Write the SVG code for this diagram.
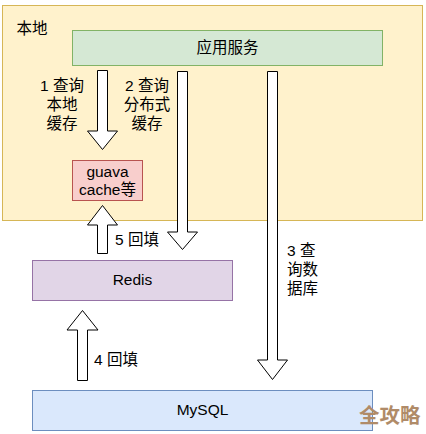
<svg xmlns="http://www.w3.org/2000/svg" width="426" height="434" viewBox="0 0 426 434">
<style>
text{font-family:"Liberation Sans","Noto Sans CJK SC",sans-serif;font-size:15.5px;fill:#000}
.c{text-anchor:middle}
.arr{fill:#fff;stroke:#000;stroke-width:1}
</style>
<rect x="0" y="0" width="426" height="434" fill="#fff"/>
<g id="local">
<rect x="2.5" y="5.5" width="420" height="215" fill="#fff2cc" stroke="#d6b656"/>
<text x="16.5" y="33.5">本地</text>
</g>
<g id="app">
<rect x="72.5" y="30.5" width="310" height="35" fill="#d5e8d4" stroke="#82b366"/>
<text class="c" x="227.5" y="52.5">应用服务</text>
</g>
<g id="guava">
<rect x="72.5" y="160.5" width="70" height="40" fill="#f8cecc" stroke="#b85450"/>
<text class="c" x="107.5" y="176.5">guava</text>
<text class="c" x="107.5" y="194.5">cache等</text>
</g>
<g id="redis">
<rect x="32.5" y="260.5" width="200" height="40" fill="#e1d5e7" stroke="#9673a6"/>
<text class="c" x="132.5" y="284.5">Redis</text>
</g>
<g id="mysql">
<rect x="32.5" y="390.5" width="340" height="40" fill="#dae8fc" stroke="#6c8ebf"/>
<text class="c" x="202.5" y="414.5">MySQL</text>
</g>
<g id="connectors">
<path class="arr" d="M97.5 70.5 H107.5 V131 H117.5 L102.5 149.5 L87.5 131 H97.5 Z"/>
<path class="arr" d="M177.5 71.5 H187.5 V232 H197.5 L182.5 249.5 L167.5 232 H177.5 Z"/>
<path class="arr" d="M267.5 71.5 H277.5 V360 H287.5 L272.5 379.5 L257.5 360 H267.5 Z"/>
<path class="arr" d="M97.5 253.5 H107.5 V225 H117.5 L102.5 205.5 L87.5 225 H97.5 Z"/>
<path class="arr" d="M77.5 380.5 H87.5 V330 H98 L82.5 310.5 L67 330 H77.5 Z"/>
<text class="c" x="62" y="90.5">1 查询</text>
<text class="c" x="62" y="109.5">本地</text>
<text class="c" x="62" y="128.5">缓存</text>
<text class="c" x="147" y="90.5">2 查询</text>
<text class="c" x="147" y="109.5">分布式</text>
<text class="c" x="147" y="128.5">缓存</text>
<text x="115" y="245">5 回填</text>
<text x="287" y="255.5">3 查</text>
<text x="287" y="274.5">询数</text>
<text x="287" y="293.5">据库</text>
<text x="94" y="365">4 回填</text>
</g>
<text x="359" y="423" style="font-size:20.5px;font-weight:bold;fill:#b08b68">全攻略</text>
</svg>
